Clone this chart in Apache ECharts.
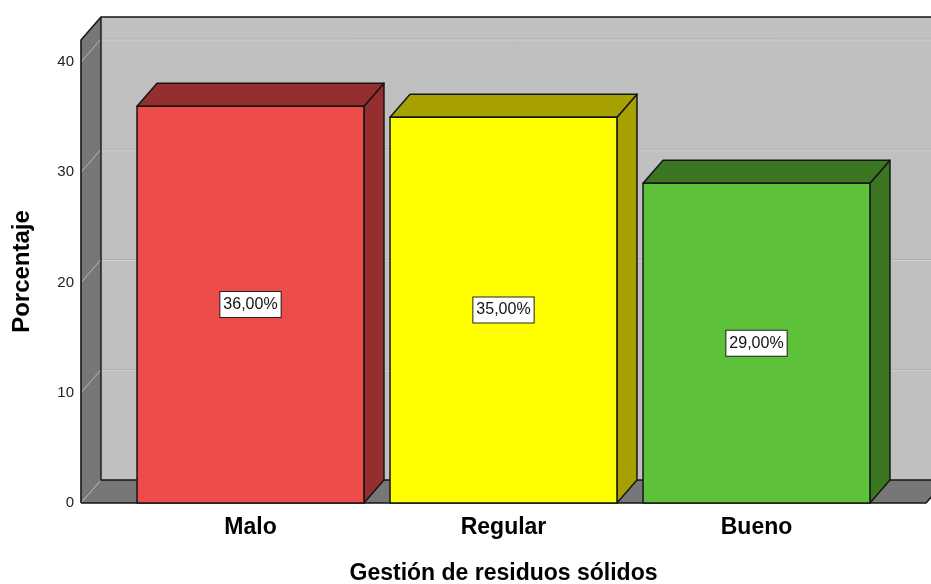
<!DOCTYPE html>
<html>
<head>
<meta charset="utf-8">
<script src="https://cdn.jsdelivr.net/npm/echarts@6/dist/echarts.min.js"></script>
<style>
  html, body { margin: 0; padding: 0; background: #ffffff; }
  #chart { width: 931px; height: 584px; }
</style>
</head>
<body>
<div id="chart"></div>
<script>
// Categories and values
const categories = ['Malo', 'Regular', 'Bueno'];
const percentages = [36, 35, 29];
const valueLabels = ['36,00%', '35,00%', '29,00%'];
const yTicks = [0, 10, 20, 30, 40];
const yAxisMax = 42;

// Palette: front faces and shaded (top / side) faces
const frontColors = ['#EE4B4B', '#FFFF00', '#5DC23A'];
const shadeColors = ['#952E2E', '#A6A000', '#3B7722'];

// 3D look
const DEPTH_X = 20;       // horizontal depth offset (px)
const DEPTH_Y = 23;       // vertical depth offset (px)
const BAR_RATIO = 0.897;  // bar width relative to category band
const WALL_MARGIN = 0.67; // floor extends this many bands beyond outer bar centers
const EDGE = '#161616';
const FONT = '"Liberation Sans", Arial, sans-serif';

// Back wall, left wall, floor and gridlines of the 3D frame
function renderBackdrop(params, api) {
  const band = api.size([1, 0])[0];
  const first = api.coord([0, 0]);
  const last = api.coord([categories.length - 1, 0]);
  const x0 = first[0] - band * WALL_MARGIN;
  const x1 = last[0] + band * WALL_MARGIN;
  const xFar = x1 + DEPTH_X + 40;
  const yBase = first[1];
  const yTop = api.coord([0, yAxisMax])[1];
  const dx = DEPTH_X, dy = DEPTH_Y;
  const children = [];

  children.push({
    type: 'polygon',
    shape: { points: [[x0 + dx, yTop - dy], [xFar, yTop - dy], [xFar, yBase - dy], [x0 + dx, yBase - dy]] },
    style: { fill: '#C0C0C0', stroke: null }
  });
  children.push({
    type: 'polygon',
    shape: { points: [[x0, yBase], [x1, yBase], [x1 + dx, yBase - dy], [x0 + dx, yBase - dy]] },
    style: { fill: '#777777', stroke: null }
  });
  children.push({
    type: 'polygon',
    shape: { points: [[x0, yBase], [x0, yTop], [x0 + dx, yTop - dy], [x0 + dx, yBase - dy]] },
    style: { fill: '#777777', stroke: null }
  });

  yTicks.forEach(function (t) {
    const y = api.coord([0, t])[1];
    if (t > 0) {
      children.push({
        type: 'line',
        shape: { x1: x0 + dx, y1: y - dy, x2: xFar, y2: y - dy },
        style: { stroke: '#AEAEAE', lineWidth: 1 }
      });
      children.push({
        type: 'line',
        shape: { x1: x0 + dx, y1: y - dy + 1, x2: xFar, y2: y - dy + 1 },
        style: { stroke: '#CFCFCF', lineWidth: 1 }
      });
    }
    children.push({
      type: 'line',
      shape: { x1: x0, y1: y, x2: x0 + dx, y2: y - dy },
      style: { stroke: '#B8B8B8', lineWidth: 1 }
    });
  });

  children.push({
    type: 'polyline',
    shape: { points: [[x0, yBase], [x0, yTop], [x0 + dx, yTop - dy], [xFar, yTop - dy]] },
    style: { stroke: EDGE, lineWidth: 1.6, fill: null }
  });
  children.push({
    type: 'polyline',
    shape: { points: [[x0 + dx, yTop - dy], [x0 + dx, yBase - dy], [xFar, yBase - dy]] },
    style: { stroke: EDGE, lineWidth: 1.4, fill: null }
  });
  children.push({
    type: 'polyline',
    shape: { points: [[x0, yBase], [x1, yBase], [x1 + dx, yBase - dy]] },
    style: { stroke: EDGE, lineWidth: 1.6, fill: null }
  });

  return { type: 'group', children: children };
}

// One 3D bar: front face, top, right side and the value box
function renderBar(params, api) {
  const idx = api.value(0);
  const val = api.value(1);
  const base = api.coord([idx, 0]);
  const top = api.coord([idx, val]);
  const w = api.size([1, 0])[0] * BAR_RATIO;
  const xl = base[0] - w / 2;
  const xr = base[0] + w / 2;
  const yb = base[1];
  const yt = top[1];
  const dx = DEPTH_X, dy = DEPTH_Y;
  const front = frontColors[params.dataIndex];
  const shade = shadeColors[params.dataIndex];
  return {
    type: 'group',
    children: [
      {
        type: 'polygon',
        shape: { points: [[xr, yt], [xr + dx, yt - dy], [xr + dx, yb - dy], [xr, yb]] },
        style: { fill: shade, stroke: EDGE, lineWidth: 1.5, lineJoin: 'round' }
      },
      {
        type: 'polygon',
        shape: { points: [[xl, yt], [xl + dx, yt - dy], [xr + dx, yt - dy], [xr, yt]] },
        style: { fill: shade, stroke: EDGE, lineWidth: 1.5, lineJoin: 'round' }
      },
      {
        type: 'rect',
        shape: { x: xl, y: yt, width: w, height: yb - yt },
        style: { fill: front, stroke: EDGE, lineWidth: 1.5 }
      },
      {
        type: 'text',
        x: base[0],
        y: (yb + yt) / 2,
        style: {
          text: valueLabels[params.dataIndex],
          font: '16px ' + FONT,
          fill: '#111',
          align: 'center',
          verticalAlign: 'middle',
          backgroundColor: '#FFFFFF',
          borderColor: '#222',
          borderWidth: 1,
          padding: [5, 3, 4, 3]
        }
      }
    ]
  };
}

const chart = echarts.init(document.getElementById('chart'), null, { renderer: 'canvas' });

chart.setOption({
  animation: false,
  backgroundColor: '#FFFFFF',
  grid: { left: 124, right: 48, top: 40, bottom: 81, containLabel: false, outerBoundsMode: 'none' },
  xAxis: {
    type: 'category',
    data: categories,
    axisLine: { show: false },
    axisTick: { show: false },
    splitLine: { show: false },
    axisLabel: { margin: 13, color: '#000', fontFamily: FONT, fontWeight: 'bold', fontSize: 23 },
    name: 'Gestión de residuos sólidos',
    nameLocation: 'middle',
    nameGap: 59,
    nameTextStyle: { color: '#000', fontFamily: FONT, fontWeight: 'bold', fontSize: 23 }
  },
  yAxis: {
    type: 'value',
    min: 0,
    max: yAxisMax,
    interval: 10,
    axisLine: { show: false },
    axisTick: { show: false },
    splitLine: { show: false },
    axisLabel: {
      margin: 50, color: '#222', fontFamily: FONT, fontSize: 15, showMaxLabel: false,
      padding: [5, 0, 0, 0],
      formatter: function (v) { return yTicks.indexOf(v) >= 0 ? String(v) : ''; }
    },
    name: 'Porcentaje',
    nameLocation: 'middle',
    nameRotate: 90,
    nameGap: 90,
    nameTextStyle: { color: '#000', fontFamily: FONT, fontWeight: 'bold', fontSize: 24 }
  },
  series: [
    { type: 'custom', name: 'backdrop', z: 1, clip: false, silent: true, renderItem: renderBackdrop, data: [[0, 0]] },
    {
      type: 'custom', name: 'Porcentaje', z: 2, clip: false, renderItem: renderBar,
      encode: { x: 0, y: 1 },
      data: categories.map(function (c, i) { return [i, percentages[i]]; })
    }
  ]
});
</script>
</body>
</html>
